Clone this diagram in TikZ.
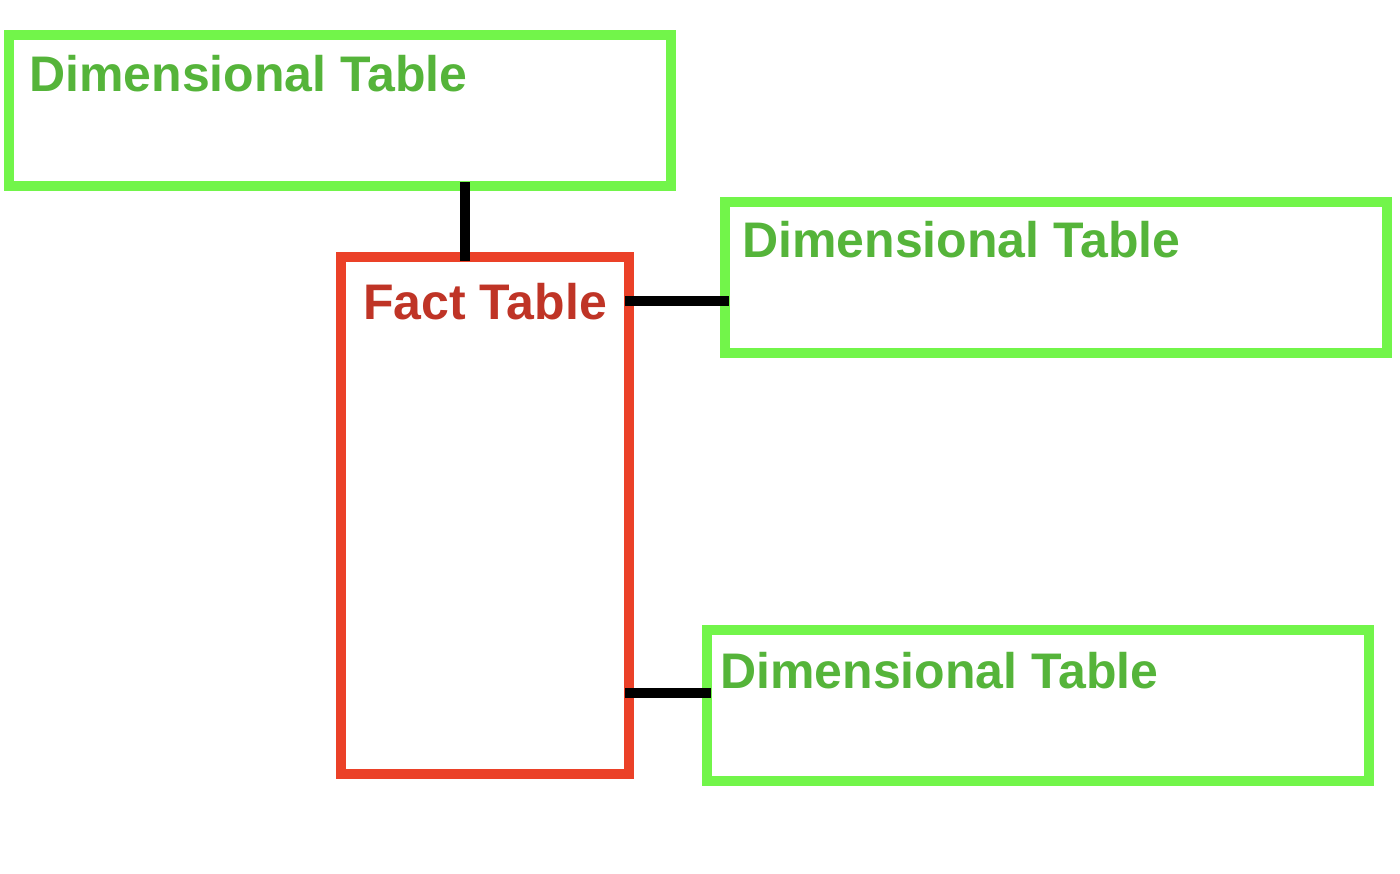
\documentclass[tikz,border=0pt]{standalone}
\usepackage{fontspec}
\setmainfont{Liberation Sans}
\usepackage{xcolor}
\usetikzlibrary{positioning}

\definecolor{dimline}{HTML}{72F54A}
\definecolor{dimtext}{HTML}{55B43A}
\definecolor{factline}{HTML}{EB4128}
\definecolor{facttext}{HTML}{BF3426}

\begin{document}
\begin{tikzpicture}[
    x=1pt, y=-1pt,
    dimbox/.style={rectangle, draw=dimline, line width=10pt, outer sep=0pt, minimum width=662pt, minimum height=151pt},
    factbox/.style={rectangle, draw=factline, line width=10pt, outer sep=0pt, minimum width=288pt, minimum height=517pt},
    title/.style={inner sep=0pt, anchor=base west, font=\fontsize{50}{56}\selectfont\bfseries},
    link/.style={draw=black, line width=10pt, shorten <=-4pt, shorten >=-4pt}
]
\useasboundingbox (0,0) rectangle (1400,874);

\node[dimbox] (dimA) at (340,110.5) {};
\node[factbox] (fact) at (485,515.75) {};
\node[dimbox] (dimB) at (1056,277.35) {};
\node[dimbox] (dimC) at (1038,705.35) {};

\node[title, text=dimtext] (dimAtitle) at ([shift={(20pt,-57pt)}]dimA.north west) {Dimensional Table};
\node[title, text=facttext] (facttitle) at ([shift={(22pt,-62pt)}]fact.north west) {Fact Table};
\node[title, text=dimtext] (dimBtitle) at ([shift={(17pt,-56pt)}]dimB.north west) {Dimensional Table};
\node[title, text=dimtext] (dimCtitle) at ([shift={(13pt,-59pt)}]dimC.north west) {Dimensional Table};

\draw[link] ([xshift=-20pt]fact.north) coordinate (topA) -- (topA |- dimA.south);
\draw[link] ([yshift=-44pt]fact.north east) coordinate (sideB) -- (sideB -| dimB.west);
\draw[link] ([yshift=81.5pt]fact.south east) coordinate (sideC) -- (sideC -| dimC.west);
\end{tikzpicture}
\end{document}
